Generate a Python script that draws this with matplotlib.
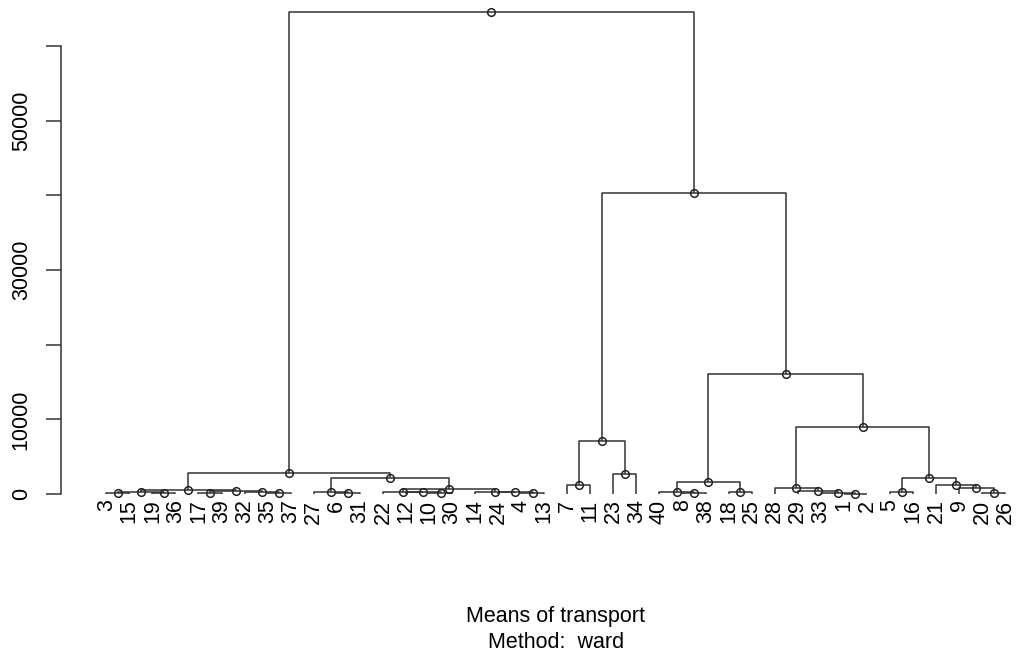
import numpy as np
import matplotlib.pyplot as plt

plt.rcParams['font.family'] = ['Liberation Sans', 'DejaVu Sans']

# leaf order as drawn, left to right
leaf_order = [3, 15, 19, 36, 17, 39, 32, 35, 37, 27, 6, 31, 22, 12, 10, 30, 14, 24, 4, 13,
              7, 11, 23, 34, 40, 8, 38, 18, 25, 28, 29, 33, 1, 2, 5, 16, 21, 9, 20, 26]

# hclust-style merge table: negative = observation, positive = earlier merge (1-based)
merge_left = [-1, -20, -3, -19, -10, -4, -35, -8, -6, -17,
              -12, -24, -33, -9, -5, -18, 3, -32, -22, -14,
              -40, -29, 10, -27, 17, 19, -28, -21, -7, 21,
              24, 15, -23, 25, 29, 27, 30, 35, 34]
merge_right = [-2, -26, -15, -36, -30, -13, -37, -38, -31, -39,
               5, 6, 1, 2, -16, -25, 4, 7, 11, 12,
               8, 13, 18, 9, 23, 20, 22, 14, -11, 16,
               26, 28, -34, 31, 33, 32, 36, 37, 38]
merge_height = [60, 120, 130, 140, 150, 150, 160, 170, 130, 200,
                210, 220, 150, 800, 250, 260, 270, 280, 300, 320,
                330, 380, 380, 270, 540, 670, 800, 1250, 1200, 1610,
                2100, 2150, 2700, 2850, 7100, 8970, 16070, 40310, 64550]

ytick_vals = [0, 10000, 20000, 30000, 40000, 50000, 60000]
ytick_text = ['0', '10000', '', '30000', '', '50000', '']

W, H = 1017, 654
fig = plt.figure(figsize=(W / 100, H / 100), dpi=100)
# axes box in pixels: left 61, right 1014, top 5, bottom 520
ax = fig.add_axes([61 / W, (H - 520) / H, (1014 - 61) / W, (520 - 5) / H])

line_kw = dict(color='#333333', lw=1.1, solid_capstyle='butt')
pos = {lab: i for i, lab in enumerate(leaf_order)}
node_x = []


def child(c):
    if c < 0:
        return pos[-c], 0.0
    return node_x[c - 1], merge_height[c - 1]


for l, r, h in zip(merge_left, merge_right, merge_height):
    xl, hl = child(l)
    xr, hr = child(r)
    ax.plot([xl, xl, xr, xr], [hl, h, h, hr], **line_kw)
    xm = (xl + xr) / 2
    node_x.append(xm)
    ax.plot(xm, h, 'o', mfc='none', mec='#222222', ms=5.5, mew=1.1, zorder=3)

x0, px_per_leaf = 106.3, 23.05
ax.set_xlim((61 - x0) / px_per_leaf, (1014 - x0) / px_per_leaf)
ax.set_ylim(-(520 - 494) / 74.67 * 10000, (494 - 5) / 74.67 * 10000)

for s in ['top', 'right']:
    ax.spines[s].set_visible(False)
ax.spines['bottom'].set_position(('data', 0))
ax.spines['bottom'].set_visible(False)
ax.spines['left'].set_bounds(0, 60000)
ax.spines['left'].set_color('#333333')
ax.spines['left'].set_linewidth(1.1)

ax.set_xticks(range(len(leaf_order)))
ax.set_xticklabels([str(v) for v in leaf_order], rotation=90, fontsize=15.5,
                   va='top', ha='center')
ax.tick_params(axis='x', length=0, pad=4)

ax.set_yticks(ytick_vals)
ax.set_yticklabels(ytick_text, rotation=90, va='center', fontsize=15.5)
ax.tick_params(axis='y', length=11, width=1.1, color='#333333', pad=10)

fig.text(556 / W, 1 - 622 / H, 'Means of transport', ha='center', va='baseline', fontsize=15.5)
fig.text(556 / W, 1 - 648 / H, 'Method:  ward', ha='center', va='baseline', fontsize=15.5)

fig.savefig('out.png', dpi=100)
